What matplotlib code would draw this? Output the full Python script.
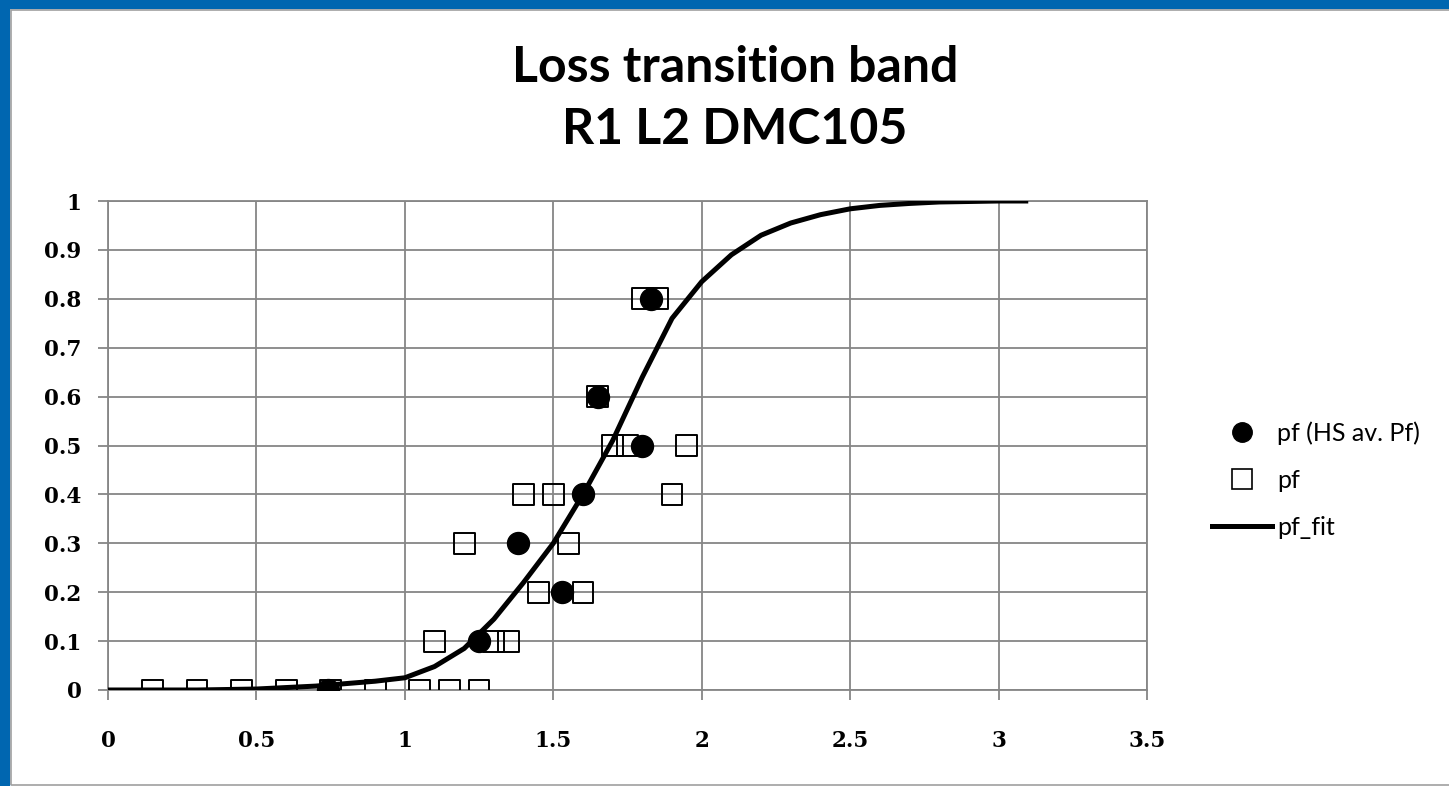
import matplotlib
matplotlib.use('Agg')
import matplotlib.pyplot as plt
from matplotlib.patches import Rectangle
from matplotlib.lines import Line2D

# ---------------- data ----------------
# pf (HS av. Pf) : filled circles
hs_x = [0.74, 1.25, 1.38, 1.53, 1.60, 1.65, 1.80, 1.83]
hs_y = [0.0, 0.1, 0.3, 0.2, 0.4, 0.6, 0.5, 0.8]

# pf : open squares
pf_x = [0.15, 0.30, 0.45, 0.60, 0.75, 0.90, 1.05, 1.15, 1.25,
        1.10, 1.30, 1.35,
        1.45, 1.60,
        1.20, 1.55,
        1.40, 1.50, 1.90,
        1.70, 1.75, 1.95,
        1.65,
        1.80, 1.85]
pf_y = [0.0] * 9 + [0.1] * 3 + [0.2] * 2 + [0.3] * 2 + [0.4] * 3 + \
       [0.5] * 3 + [0.6] + [0.8] * 2

# pf_fit : fitted curve
fit_x = [0.0, 0.1, 0.2, 0.3, 0.4, 0.5, 0.6, 0.7, 0.8, 0.9, 1.0, 1.1, 1.2,
         1.3, 1.4, 1.5, 1.6, 1.7, 1.8, 1.9, 2.0, 2.1, 2.2, 2.3, 2.4, 2.5,
         2.6, 2.7, 2.8, 2.9, 3.0, 3.1]
fit_y = [0.0, 0.0, 0.0, 0.0, 0.001, 0.002, 0.005, 0.008, 0.013, 0.018,
         0.025, 0.048, 0.085, 0.145, 0.22, 0.30, 0.40, 0.51, 0.64, 0.76,
         0.835, 0.89, 0.93, 0.955, 0.972, 0.984, 0.991, 0.995, 0.998,
         0.999, 1.0, 1.0]

x_ticks = [0, 0.5, 1, 1.5, 2, 2.5, 3, 3.5]
y_ticks = [0, 0.1, 0.2, 0.3, 0.4, 0.5, 0.6, 0.7, 0.8, 0.9, 1]

W, H = 1449, 786
fig = plt.figure(figsize=(W / 100, H / 100), dpi=100)
fig.patch.set_facecolor('white')

# blue slide frame (left and top) + thin grey chart-area border
blue = '#0066b0'
fig.patches.append(Rectangle((0, 0), 9 / W, 1, transform=fig.transFigure,
                             color=blue, zorder=0))
fig.patches.append(Rectangle((0, 1 - 8 / H), 1, 8 / H, transform=fig.transFigure,
                             color=blue, zorder=0))
fig.patches.append(Rectangle((11 / W, 1 / H), 1.0, 1 - 11 / H,
                             transform=fig.transFigure, fill=False,
                             edgecolor='#a0a0a0', lw=1.2, zorder=0))

ax = fig.add_axes([108 / W, 1 - 690 / H, (1147 - 108) / W, (690 - 201) / H])

grid_c = '#868686'
ax.scatter(pf_x, pf_y, marker='s', s=225, facecolors='none',
           edgecolors='black', linewidths=1.4, zorder=3, label='pf')
ax.scatter(hs_x, hs_y, marker='o', s=250, color='black', zorder=4,
           label='pf (HS av. Pf)')
ax.plot(fit_x, fit_y, color='black', lw=3.6, zorder=5, label='pf_fit',
        solid_capstyle='butt')

ax.set_xlim(0, 3.5)
ax.set_ylim(0, 1)
ax.set_xticks(x_ticks)
ax.set_xticklabels(['0', '0.5', '1', '1.5', '2', '2.5', '3', '3.5'])
ax.set_yticks(y_ticks)
ax.set_yticklabels(['0', '0.1', '0.2', '0.3', '0.4', '0.5', '0.6', '0.7',
                    '0.8', '0.9', '1'])
ax.grid(True, color=grid_c, lw=1.3)
ax.set_axisbelow(True)
for sp in ax.spines.values():
    sp.set_color(grid_c)
    sp.set_linewidth(1.3)
ax.tick_params(axis='both', length=7, width=1.3, color=grid_c,
               labelsize=15.5)
ax.tick_params(axis='x', pad=22)
ax.tick_params(axis='y', pad=12)
for lab in ax.get_xticklabels() + ax.get_yticklabels():
    lab.set_fontfamily('DejaVu Serif')
    lab.set_fontweight('bold')

fig.text(735 / W, 1 - 68 / H, 'Loss transition band', ha='center',
         va='center', fontsize=36, fontweight='bold', family='Lato')
fig.text(735 / W, 1 - 130 / H, 'R1 L2 DMC105', ha='center',
         va='center', fontsize=36, fontweight='bold', family='Lato')

handles = [
    Line2D([], [], marker='o', ls='none', color='black', ms=14),
    Line2D([], [], marker='s', ls='none', mfc='none', mec='black', ms=14,
           mew=1.2),
    Line2D([], [], color='black', lw=3.6),
]
fig.legend(handles, ['pf (HS av. Pf)', 'pf', 'pf_fit'],
           loc='center left', bbox_to_anchor=(1212 / W, 1 - 480 / H),
           frameon=False, prop={'family': 'Lato', 'size': 18},
           handlelength=2.4, handletextpad=0.2, labelspacing=0.95,
           borderpad=0, borderaxespad=0)

fig.savefig('out.png', dpi=100, facecolor='white')
